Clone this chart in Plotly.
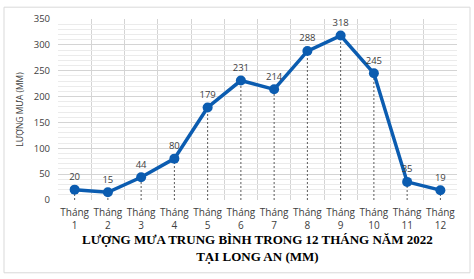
import plotly.graph_objects as go

months = list(range(1, 13))
month_labels = [f"Tháng<br>{m}" for m in months]
rain = [20, 15, 44, 80, 179, 231, 214, 288, 318, 245, 35, 19]
y_ticks = [0, 50, 100, 150, 200, 250, 300, 350]

L, R, T, B = 58, 457, 16, 200
W, H = 474, 279

fig = go.Figure()

# dashed drop lines from each point to the axis
drop_x, drop_y = [], []
for m, v in zip(months, rain):
    drop_x += [m, m, None]
    drop_y += [0, v, None]
fig.add_trace(go.Scatter(x=drop_x, y=drop_y, mode="lines",
                         line=dict(color="#5a5a5a", width=1, dash="2px,2px"),
                         hoverinfo="skip", showlegend=False))

fig.add_trace(go.Scatter(
    x=months, y=rain, mode="lines+markers+text",
    line=dict(color="#0b5cb0", width=3.5),
    marker=dict(color="#0b5cb0", size=10),
    text=[str(v) for v in rain], textposition="top center",
    textfont=dict(family="Open Sans", size=9.5, color="#404040"),
    showlegend=False))

fig.update_layout(
    width=W, height=H,
    margin=dict(l=L, r=W - R, t=T, b=H - B),
    paper_bgcolor="white", plot_bgcolor="white",
    font=dict(family="Open Sans", size=10, color="#404040"),
    xaxis=dict(range=[0.5, 12.5], tickvals=months, ticktext=month_labels,
               showgrid=False, zeroline=False, showline=False, ticks="",
               ticklabelstandoff=5,
               minor=dict(tick0=0.5, dtick=1, showgrid=True, gridcolor="#d4d4d4", gridwidth=1),
               tickfont=dict(family="Open Sans", size=10, color="#404040")),
    yaxis=dict(range=[0, 350], tickvals=y_ticks, showgrid=True, gridcolor="#d4d4d4",
               zeroline=False, showline=False, ticks="", ticklabelstandoff=7,
               minor=dict(dtick=10, showgrid=True, gridcolor="#ebebeb", gridwidth=1),
               tickfont=dict(family="Open Sans", size=9.5, color="#404040"),
               title=dict(text="LƯỢNG MƯA (MM)", standoff=8,
                          font=dict(family="Open Sans", size=8.5, color="#404040"))),
)

pw, ph = R - L, B - T
fig.add_shape(type="rect", xref="paper", yref="paper",
              x0=(4 - L) / pw, x1=(470 - L) / pw,
              y0=(B - 274) / ph, y1=(B - 4) / ph,
              line=dict(color="#d9d9d9", width=1), layer="below")

fig.add_annotation(xref="paper", yref="paper", x=0.5, y=(B - 249) / ph,
                   text="<b>LƯỢNG MƯA TRUNG BÌNH TRONG 12 THÁNG NĂM 2022<br>TẠI LONG AN (MM)</b>",
                   showarrow=False, align="center", yanchor="middle",
                   font=dict(family="Liberation Serif", size=13, color="#000000"))

fig.write_html("out.html")
